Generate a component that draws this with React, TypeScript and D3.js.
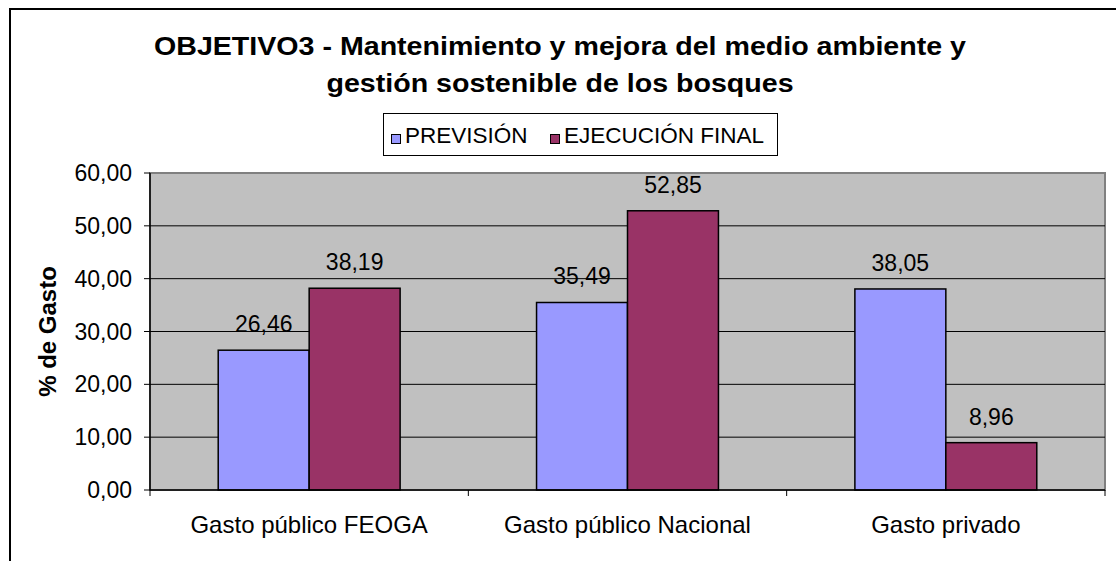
import React from "react";
import * as d3 from "d3";

const categories = ["Gasto público FEOGA", "Gasto público Nacional", "Gasto privado"];
const seriesNames = ["PREVISIÓN", "EJECUCIÓN FINAL"];
const prevision = [26.46, 35.49, 38.05];
const ejecucion = [38.19, 52.85, 8.96];
const yTicks = [0, 10, 20, 30, 40, 50, 60];
const colors = ["#9999FF", "#993366"];
const titleLines = [
  "OBJETIVO3 - Mantenimiento y mejora del medio ambiente y",
  "gestión sostenible de los bosques",
];
const yTitle = "% de Gasto";

const W = 1116;
const H = 561;
const plot = { left: 150, right: 1105, top: 173, bottom: 490 };
const FONT = "'Liberation Sans', Arial, sans-serif";

const fmt = (v: number) => v.toFixed(2).replace(".", ",");

type TProps = {
  x: number;
  y: number;
  size: number;
  sx?: number;
  rotate?: number;
  anchor?: "start" | "middle" | "end";
  bold?: boolean;
  children: React.ReactNode;
};

function T({ x, y, size, sx = 1, rotate = 0, anchor = "start", bold = false, children }: TProps) {
  return (
    <g transform={`translate(${x},${y}) rotate(${rotate}) scale(${sx},1)`}>
      <text x={0} y={0} textAnchor={anchor} fontSize={size} fontWeight={bold ? "bold" : "normal"} fill="#000">
        {children}
      </text>
    </g>
  );
}

export default function App() {
  const x = d3
    .scaleBand<string>()
    .domain(categories)
    .range([plot.left, plot.right])
    .paddingInner(1.5 / 3.5)
    .paddingOuter(0.75 / 3.5);
  const xs = d3.scaleBand<string>().domain(seriesNames).range([0, x.bandwidth()]);
  const y = d3.scaleLinear().domain([0, 60]).range([plot.bottom, plot.top]);
  const step = x.step();
  const series = [prevision, ejecucion];
  const boundaries = d3.range(categories.length + 1).map((i) => plot.left + i * step);
  const legendX = [391, 550];
  const legendTextX = [405, 564];

  return (
    <svg
      width={W}
      height={H}
      style={{ position: "absolute", left: 0, top: 0, background: "#fff" }}
      fontFamily={FONT}
    >
      {/* outer chart border */}
      <line x1={10} y1={9} x2={W} y2={9} stroke="#000" strokeWidth={2} />
      <line x1={10} y1={8} x2={10} y2={H} stroke="#000" strokeWidth={2} />

      {/* title */}
      {titleLines.map((t, i) => (
        <T key={i} x={560} y={55 + i * 37} size={26} sx={1.1} anchor="middle" bold>
          {t}
        </T>
      ))}

      {/* legend */}
      <rect x={383.5} y={113.5} width={394} height={42} fill="#fff" stroke="#000" strokeWidth={1} />
      {seriesNames.map((s, i) => (
        <g key={s}>
          <rect x={legendX[i] + 0.5} y={134.5} width={9} height={9} fill={colors[i]} stroke="#000" strokeWidth={1} />
          <T x={legendTextX[i]} y={143} size={22.5}>
            {s}
          </T>
        </g>
      ))}

      {/* plot area */}
      <rect
        x={plot.left}
        y={plot.top}
        width={plot.right - plot.left}
        height={plot.bottom - plot.top}
        fill="#C0C0C0"
        stroke="#808080"
        strokeWidth={2}
      />
      {yTicks.slice(1, -1).map((t) => (
        <line key={t} x1={plot.left} x2={plot.right} y1={y(t)} y2={y(t)} stroke="#000" strokeWidth={1} />
      ))}

      {/* bars */}
      {categories.map((c, ci) =>
        seriesNames.map((s, si) => {
          const v = series[si][ci];
          const bx = (x(c) as number) + (xs(s) as number);
          return (
            <g key={c + s}>
              <rect
                x={bx}
                y={y(v)}
                width={xs.bandwidth()}
                height={y(0) - y(v)}
                fill={colors[si]}
                stroke="#000"
                strokeWidth={1.5}
              />
              <T x={bx + xs.bandwidth() / 2} y={y(v) - 18} size={23} anchor="middle">
                {fmt(v)}
              </T>
            </g>
          );
        })
      )}

      {/* axes */}
      <line x1={plot.left} x2={plot.left} y1={plot.top} y2={plot.bottom} stroke="#000" strokeWidth={1.5} />
      <line x1={plot.left} x2={plot.right} y1={plot.bottom} y2={plot.bottom} stroke="#000" strokeWidth={1.5} />
      {yTicks.map((t) => (
        <g key={t}>
          <line x1={plot.left - 6} x2={plot.left} y1={y(t)} y2={y(t)} stroke="#000" strokeWidth={1} />
          <T x={132} y={y(t) + 8} size={23} anchor="end">
            {fmt(t)}
          </T>
        </g>
      ))}
      {boundaries.map((bx, i) => (
        <line key={i} x1={bx} x2={bx} y1={plot.bottom} y2={plot.bottom + 6} stroke="#000" strokeWidth={1} />
      ))}
      {categories.map((c) => (
        <T key={c} x={(x(c) as number) + x.bandwidth() / 2} y={533} size={24} anchor="middle">
          {c}
        </T>
      ))}
      <T x={56} y={(plot.top + plot.bottom) / 2} size={24} sx={1.0} rotate={-90} anchor="middle" bold>
        {yTitle}
      </T>
    </svg>
  );
}
